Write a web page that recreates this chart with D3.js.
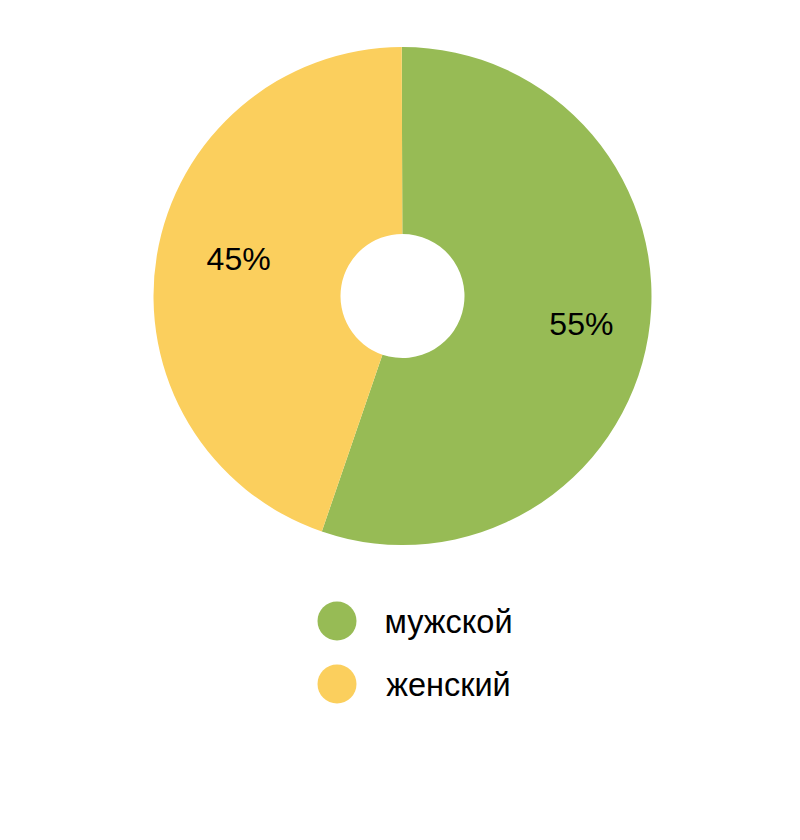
<!DOCTYPE html>
<html>
<head>
<meta charset="utf-8">
<script src="https://cdn.jsdelivr.net/npm/d3@7"></script>
<style>
  html, body { margin: 0; padding: 0; background: #fff; }
  svg { display: block; }
  text { font-family: "Liberation Sans", Arial, sans-serif; }
</style>
</head>
<body>
<svg id="chart" width="800" height="840"></svg>
<script>
const categories = ["мужской", "женский"];
const values = [55.3, 44.7];
const labels = ["55%", "45%"];
const colors = ["#97BB55", "#FBCF5D"];

const svg = d3.select("#chart");
const cx = 402.5, cy = 296, outerR = 249, innerR = 62;

const pie = d3.pie().sort(null).value(d => d)
  .startAngle(-0.003).endAngle(2 * Math.PI - 0.003)(values);
const arc = d3.arc().innerRadius(innerR).outerRadius(outerR);

const g = svg.append("g").attr("transform", `translate(${cx},${cy})`);
g.selectAll("path").data(pie).join("path")
  .attr("d", arc)
  .attr("fill", (d, i) => colors[i]);

// label placement: polar position derived from each slice's mid angle
const labelAdj = [{da: -0.6, r: 181}, {da: 3.3, r: 168}]; // degrees, px
g.selectAll("text.lbl").data(pie).join("text")
  .attr("class", "lbl")
  .attr("x", (d, i) => {
    const a = (d.startAngle + d.endAngle) / 2 + labelAdj[i].da * Math.PI / 180;
    return Math.sin(a) * labelAdj[i].r;
  })
  .attr("y", (d, i) => {
    const a = (d.startAngle + d.endAngle) / 2 + labelAdj[i].da * Math.PI / 180;
    return -Math.cos(a) * labelAdj[i].r;
  })
  .attr("text-anchor", "middle")
  .attr("dominant-baseline", "central")
  .attr("font-size", 32)
  .attr("fill", "#000")
  .text((d, i) => labels[i]);

// legend
const legendY = d3.scalePoint().domain(categories).range([621, 684]);
const lg = svg.append("g");
const items = lg.selectAll("g").data(categories).join("g")
  .attr("transform", d => `translate(0,${legendY(d)})`);
items.append("circle").attr("cx", 337).attr("cy", 0).attr("r", 19.5)
  .attr("fill", (d, i) => colors[i]);
items.append("text").attr("x", 448.5).attr("y", 12)
  .attr("text-anchor", "middle")
  .attr("font-size", 32.5)
  .attr("fill", "#000")
  .text(d => d);
</script>
</body>
</html>
